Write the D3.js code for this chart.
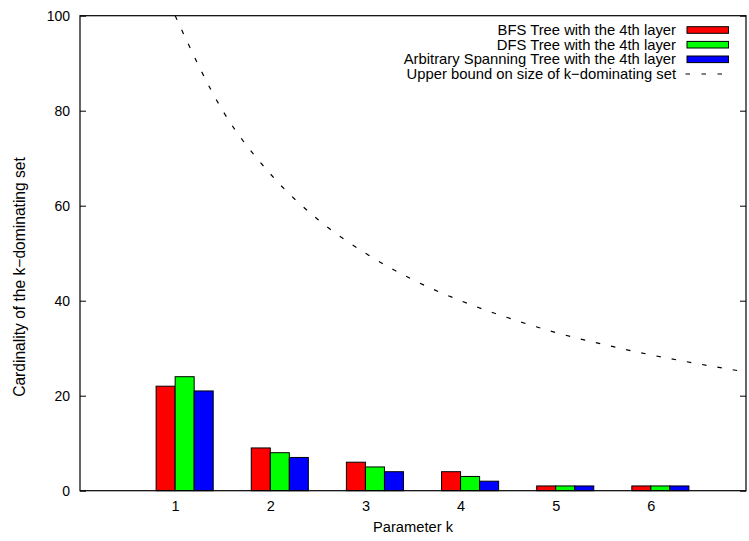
<!DOCTYPE html>
<html>
<head>
<meta charset="utf-8">
<script src="https://cdn.jsdelivr.net/npm/d3@7"></script>
<style>
  html, body { margin: 0; padding: 0; background: #fff; }
  svg { display: block; }
  text { font-family: "Liberation Sans", Arial, Helvetica, sans-serif; fill: #000; }
</style>
</head>
<body>
<svg id="chart" width="749" height="541"></svg>
<script>
// Parameter k values on the x axis
const kValues = [1, 2, 3, 4, 5, 6];

// Cardinality of the k-dominating set for each tree type
const bfsValues = [22, 9, 6, 4, 1, 1];
const dfsValues = [24, 8, 5, 3, 1, 1];
const arbitraryValues = [21, 7, 4, 2, 1, 1];

const seriesNames = [
  "BFS Tree with the 4th layer",
  "DFS Tree with the 4th layer",
  "Arbitrary Spanning Tree with the 4th layer"
];
const seriesColors = ["#ff0000", "#00ff00", "#0000ff"];
const boundName = "Upper bound on size of k\u2212dominating set";

// Upper bound curve, sampled along k
const boundK = [1, 1.5, 2, 2.5, 3, 3.5, 4, 4.5, 5, 5.5, 6, 6.5, 7];
const boundValues = [100, 80, 66.7, 57.1, 50, 44.4, 40, 36.4, 33.3, 30.8, 28.6, 26.7, 25];

const yTicks = [0, 20, 40, 60, 80, 100];

const svg = d3.select("#chart");
const plot = { left: 80, right: 746, top: 15.7, bottom: 490.7 };

const x = d3.scaleLinear().domain([0, 7]).range([plot.left, plot.right]);
const y = d3.scaleLinear().domain([0, 100]).range([plot.bottom, plot.top]);
const barW = 0.2;

const series = [bfsValues, dfsValues, arbitraryValues];

// Bars
const barG = svg.append("g");
series.forEach((vals, i) => {
  barG.selectAll(null)
    .data(kValues.map((k, j) => ({ k, v: vals[j] })))
    .enter().append("rect")
    .attr("x", d => x(d.k - barW + i * barW))
    .attr("width", d => x(d.k + i * barW) - x(d.k - barW + i * barW))
    .attr("y", d => y(d.v))
    .attr("height", d => y(0) - y(d.v))
    .attr("fill", seriesColors[i])
    .attr("stroke", "#000")
    .attr("stroke-width", 1);
});

// Upper bound curve
const line = d3.line()
  .x(d => x(d[0]))
  .y(d => y(d[1]))
  .curve(d3.curveMonotoneX);
svg.append("path")
  .datum(boundK.map((k, i) => [k, boundValues[i]]))
  .attr("d", line)
  .attr("fill", "none")
  .attr("stroke", "#000")
  .attr("stroke-width", 1.2)
  .attr("stroke-dasharray", "4.5,11");

// Y axis ticks (left, inward) with labels
const yAxis = d3.axisLeft(y).tickValues(yTicks).tickSizeInner(-6).tickSizeOuter(0).tickPadding(10);
const yg = svg.append("g").attr("transform", `translate(${plot.left},0)`).call(yAxis);
yg.select(".domain").remove();
yg.selectAll("line").attr("stroke", "#000");
yg.selectAll("text").attr("font-size", 14).style("font-family", '"Liberation Sans", Arial, sans-serif');

// Mirrored ticks on the right
const yAxisR = d3.axisRight(y).tickValues(yTicks).tickSizeInner(-6).tickSizeOuter(0).tickFormat("");
const yr = svg.append("g").attr("transform", `translate(${plot.right},0)`).call(yAxisR);
yr.select(".domain").remove();
yr.selectAll("line").attr("stroke", "#000");

// X axis labels (no tick marks)
const xAxis = d3.axisBottom(x).tickValues(kValues).tickSize(0).tickPadding(10).tickFormat(d3.format("d"));
const xg = svg.append("g").attr("transform", `translate(0,${plot.bottom})`).call(xAxis);
xg.select(".domain").remove();
xg.selectAll("text").attr("font-size", 14.5).style("font-family", '"Liberation Sans", Arial, sans-serif');

// Plot border
svg.append("rect")
  .attr("x", plot.left).attr("y", plot.top)
  .attr("width", plot.right - plot.left).attr("height", plot.bottom - plot.top)
  .attr("fill", "none").attr("stroke", "#000").attr("stroke-width", 1.2);

// Axis titles
svg.append("text")
  .attr("x", 413).attr("y", 532)
  .attr("text-anchor", "middle").attr("font-size", 14.7)
  .text("Parameter k");
svg.append("text")
  .attr("transform", "translate(25,277) rotate(-90)")
  .attr("text-anchor", "middle").attr("font-size", 15.6)
  .text("Cardinality of the k\u2212dominating set");

// Legend
const legendRows = [30, 44.7, 59.3, 74];
const legendFont = 14.8;
const legend = svg.append("g");
seriesNames.forEach((name, i) => {
  legend.append("text")
    .attr("x", 676).attr("y", legendRows[i]).attr("dy", "0.35em")
    .attr("text-anchor", "end").attr("font-size", legendFont)
    .text(name);
  legend.append("rect")
    .attr("x", 687).attr("y", legendRows[i] - 3.3)
    .attr("width", 41.5).attr("height", 6.6)
    .attr("fill", seriesColors[i]).attr("stroke", "#000").attr("stroke-width", 1);
});
legend.append("text")
  .attr("x", 676).attr("y", legendRows[3]).attr("dy", "0.35em")
  .attr("text-anchor", "end").attr("font-size", legendFont)
  .text(boundName);
legend.append("line")
  .attr("x1", 685.5).attr("x2", 730)
  .attr("y1", legendRows[3]).attr("y2", legendRows[3])
  .attr("stroke", "#000").attr("stroke-width", 1.2)
  .attr("stroke-dasharray", "4.5,11.5");
</script>
</body>
</html>
